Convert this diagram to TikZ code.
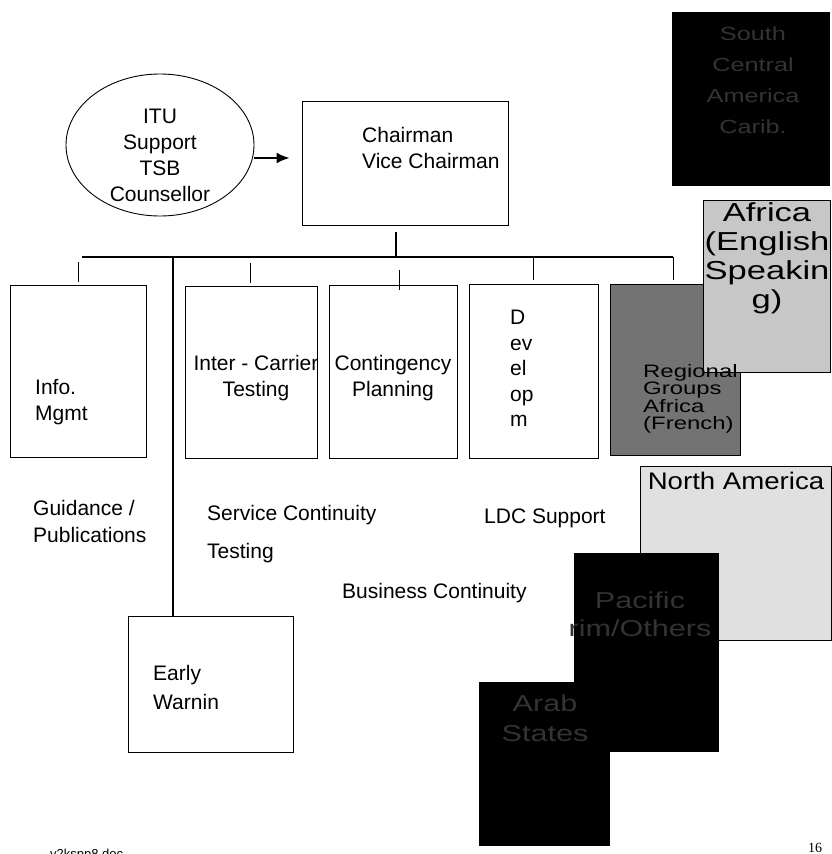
\documentclass[tikz,border=0pt]{standalone}
\usepackage{fontspec}
\setmainfont{Liberation Sans}
\newfontfamily\widefont[FakeStretch=1.33]{Liberation Sans}
\newfontfamily\semiwidefont[FakeStretch=1.15]{Liberation Sans}
\newfontfamily\pagefont{Liberation Serif}
\usetikzlibrary{shapes.geometric, arrows.meta, positioning}
\newcommand{\orgfont}[1]{\fontsize{21}{#1}\selectfont}
\newcommand{\regfont}[2]{\widefont\fontsize{#1}{#2}\selectfont}

\begin{document}
\begin{tikzpicture}[
  x=1pt, y=-1pt,
  orgbox/.style={rectangle, draw, line width=0.9pt, fill=white, inner sep=0pt},
  liaison/.style={ellipse, draw, line width=0.9pt, minimum width=188pt, minimum height=142pt, inner sep=0pt},
  regionbox/.style={rectangle, draw, line width=0.9pt, inner sep=0pt},
  orgtext/.style={inner sep=0pt, font=\orgfont{26}},
  darktext/.style={inner sep=0pt, align=center, text=white!20!black},
  drop/.style={line width=1pt},
  bus/.style={line width=1.3pt}
]
  \useasboundingbox[fill=white] (0,0) rectangle (831,854);

  % ITU support ellipse
  \node[liaison] (itu) at (160,145) {};
  \node[orgtext, align=center] (itutext) at (160,155.5) {ITU\\Support\\TSB\\Counsellor};

  % Chairman box
  \node[orgbox, minimum width=206pt, minimum height=124pt] (chair) at (405,163) {};
  \node[orgtext, anchor=west, align=left] (chairtext) at (362,147.5) {Chairman\\Vice Chairman};
  \draw[-{Latex[length=13pt,width=11pt]}, line width=2pt, shorten >=12pt]
    ([yshift=-13pt]itu.east) -- ([yshift=-13pt]itu.east -| chair.west);

  % Bus below the chair
  \coordinate (chairfoot) at (396,232);
  \coordinate (busleft) at (82,257);
  \coordinate (busright) at (673,257);
  \draw[bus] (chairfoot) -- (chairfoot |- busleft);
  \draw[bus] (busleft) -- (busright);

  % Working groups
  \node[orgbox, minimum width=136pt, minimum height=172pt] (info) at (78,371) {};
  \node[orgbox, minimum width=132pt, minimum height=172pt] (icarrier) at (251,372) {};
  \node[orgbox, minimum width=128pt, minimum height=173pt] (conting) at (393,371.5) {};
  \node[orgbox, minimum width=129pt, minimum height=174pt] (develop) at (533.5,371) {};
  \node[orgbox, minimum width=165pt, minimum height=136pt] (early) at (210.5,684) {};

  \node[orgtext, anchor=west, align=left] at (35,402) {Info.\\Mgmt};
  \node[orgtext, align=center] at (256,378) {Inter - Carrier\\Testing};
  \node[orgtext, align=center] at (393,378) {Contingency\\Planning};
  \node[orgtext, anchor=west, align=left, font=\orgfont{25.5}] at (510,368.5) {D\\ev\\el\\op\\m};
  \node[orgtext, anchor=west, align=left, font=\orgfont{29}] at (153,687.5) {Early\\Warnin};

  % Drops to the groups
  \draw[drop] ([yshift=3pt]info.north) -- ++(0,-20);
  \draw[drop] ([xshift=-1pt,yshift=3pt]icarrier.north) -- ++(0,-20);
  \draw[drop] ([xshift=6pt,yshift=-5pt]conting.north) -- ++(0,-20);
  \draw[drop] ([yshift=4pt]develop.north) -- (develop.north |- busleft);
  \draw[line width=2pt] ([xshift=-37.5pt]early.north) -- ([xshift=-37.5pt]early.north |- busleft);

  % Loose labels
  \node[orgtext, anchor=west, align=left, font=\orgfont{27}] at (33,521.5) {Guidance /\\Publications};
  \node[orgtext, anchor=west] at (207,515) {Service Continuity};
  \node[orgtext, anchor=west] at (207,553) {Testing};
  \node[orgtext, anchor=west] at (484,518) {LDC Support};
  \node[orgtext, anchor=west] at (342,593) {Business Continuity};

  % Regional groups
  \node[regionbox, fill=black!55, minimum width=130pt, minimum height=171pt] (afrfr) at (675,369.5) {};
  \draw[drop] ([xshift=-2pt,yshift=4pt]afrfr.north) -- (busright);
  \node[regionbox, fill=black!22, minimum width=127pt, minimum height=172pt] (afreng) at (766.5,286) {};
  \node[inner sep=0pt, align=left, font=\regfont{18}{17.5}, anchor=west] at (643,399) {Regional\\Groups\\Africa\\(French)};
  \node[inner sep=0pt, align=center, font=\regfont{26}{29}] at (767,258.5) {Africa\\(English\\Speakin\\g)};

  \node[regionbox, fill=black, minimum width=157pt, minimum height=173pt] (latam) at (750.5,98.5) {};
  \node[darktext, font=\regfont{19}{31}] at (753,80) {South\\Central\\America\\Carib.};

  \node[regionbox, fill=black!12, minimum width=191pt, minimum height=174pt] (namer) at (735.5,553) {};
  \node[inner sep=0pt, font=\semiwidefont\fontsize{24}{28}\selectfont] at (736,481) {North America};

  \node[regionbox, fill=black, minimum width=144pt, minimum height=198pt] (pacific) at (646,652) {};
  \node[darktext, font=\regfont{23}{28}] at (640,614) {Pacific\\rim/Others};

  \node[regionbox, fill=black, minimum width=130pt, minimum height=163pt] (arab) at (544,763.5) {};
  \node[darktext, font=\regfont{23}{30}] at (545,718) {Arab\\States};

  % Page footer
  \node[inner sep=0pt, anchor=north west, font=\fontsize{13}{15}\selectfont] at (50,849) {y2kspp8.doc};
  \node[inner sep=0pt, font=\pagefont\fontsize{14}{16}\selectfont] at (815,848) {16};
\end{tikzpicture}
\end{document}
